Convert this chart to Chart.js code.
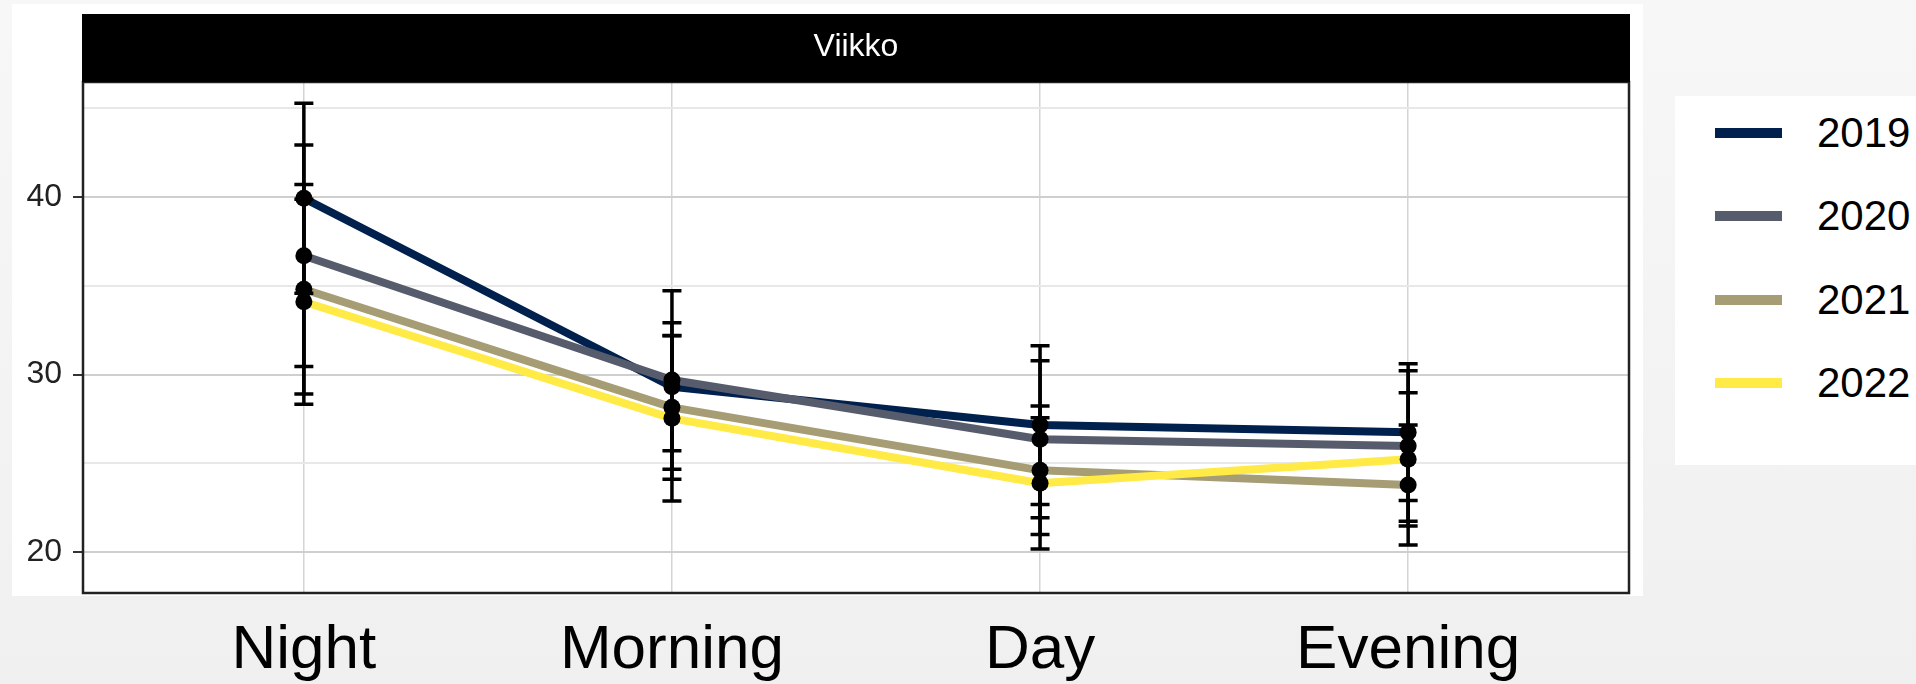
<!DOCTYPE html>
<html>
<head>
<meta charset="utf-8">
<title>Viikko</title>
<script src="https://cdn.jsdelivr.net/npm/chart.js@4.4.1/dist/chart.umd.min.js"></script>
<style>
    html, body { margin: 0; padding: 0; }
    body {
        width: 1916px; height: 684px; overflow: hidden; position: relative;
        background: linear-gradient(180deg, #f7f7f7 0%, #f0f0f0 100%);
        font-family: "Liberation Sans", Arial, sans-serif;
    }
    .sheet { position: absolute; left: 12px; top: 4px; width: 1631px; height: 592px; background: #fff; }
    #chart { position: absolute; left: 0; top: 0; }
    .legend { position: absolute; left: 1675px; top: 96px; width: 241px; height: 369px; background: #fff; }
    .legend .item { position: absolute; left: 40px; height: 42px; display: flex; align-items: center; }
    .legend .key { width: 67px; height: 10px; margin-right: 35px; }
    .legend .txt { font-size: 42px; line-height: 42px; color: #000; }
</style>
</head>
<body>
<div class="sheet"></div>
<canvas id="chart" width="1916" height="684"></canvas>
<div class="legend" id="legend"></div>

<script>
(function () {
    "use strict";

    // Data
    var categories = ["Night", "Morning", "Day", "Evening"];
    var years = ["2019", "2020", "2021", "2022"];
    var colors = ["#00204D", "#575C6D", "#A69D75", "#FFEA46"];

    var mean2019 = [39.93, 29.31, 27.15, 26.75];
    var mean2020 = [36.69, 29.69, 26.35, 25.97];
    var mean2021 = [34.80, 28.15, 24.60, 23.77];
    var mean2022 = [34.10, 27.53, 23.87, 25.22];

    var err2019 = [5.35, 3.61, 4.47, 3.85];
    var err2020 = [6.24, 5.03, 4.42, 4.24];
    var err2021 = [5.90, 4.05, 3.62, 3.38];
    var err2022 = [5.78, 4.66, 3.70, 3.75];

    var yTicks = [20, 25, 30, 35, 40, 45];
    var panelTitle = "Viikko";

    var means = [mean2019, mean2020, mean2021, mean2022];
    var errs = [err2019, err2020, err2021, err2022];


    // Datasets
    var datasets = years.map(function (year, i) {
        return {
            label: year,
            data: means[i].map(function (v, j) { return {x: j, y: v}; }),
            errors: errs[i],
            borderColor: colors[i],
            backgroundColor: colors[i],
            borderWidth: 8,
            borderJoinStyle: "round",
            pointRadius: 0,
            tension: 0,
            order: years.length - i
        };
    });


    // Error bars and points on top of the lines
    var errorBars = {
        id: "errorBars",
        afterDatasetsDraw: function (chart) {
            var ctx = chart.ctx;
            var yScale = chart.scales.y;
            ctx.save();
            ctx.strokeStyle = "#000";
            ctx.lineWidth = 3.5;
            chart.data.datasets.forEach(function (ds, i) {
                chart.getDatasetMeta(i).data.forEach(function (pt, j) {
                    var top = yScale.getPixelForValue(ds.data[j].y + ds.errors[j]);
                    var bot = yScale.getPixelForValue(ds.data[j].y - ds.errors[j]);
                    ctx.beginPath();
                    ctx.moveTo(pt.x, top);
                    ctx.lineTo(pt.x, bot);
                    ctx.moveTo(pt.x - 9.5, top);
                    ctx.lineTo(pt.x + 9.5, top);
                    ctx.moveTo(pt.x - 9.5, bot);
                    ctx.lineTo(pt.x + 9.5, bot);
                    ctx.stroke();
                });
            });
            ctx.fillStyle = "#000";
            chart.data.datasets.forEach(function (ds, i) {
                chart.getDatasetMeta(i).data.forEach(function (pt) {
                    ctx.beginPath();
                    ctx.arc(pt.x, pt.y, 8.5, 0, Math.PI * 2);
                    ctx.fill();
                });
            });
            ctx.restore();
        }
    };


    // Panel border and facet strip
    var panelFrame = {
        id: "panelFrame",
        afterDraw: function (chart) {
            var ctx = chart.ctx;
            var a = chart.chartArea;
            ctx.save();
            ctx.strokeStyle = "#222";
            ctx.lineWidth = 2.5;
            ctx.strokeRect(a.left, a.top, a.right - a.left, a.bottom - a.top);
            ctx.fillStyle = "#000";
            ctx.fillRect(a.left - 1, 14, a.right - a.left + 2, a.top - 14);
            ctx.fillStyle = "#fff";
            ctx.font = "32px 'Liberation Sans', Arial, sans-serif";
            ctx.textAlign = "center";
            ctx.textBaseline = "middle";
            ctx.fillText(panelTitle, (a.left + a.right) / 2, 47);
            ctx.restore();
        }
    };


    // Chart
    var ctx1 = document.getElementById("chart").getContext("2d");
    var myChart1 = new Chart(ctx1, {
        type: "line",
        data: {datasets: datasets},
        plugins: [errorBars, panelFrame],
        options: {
            responsive: false,
            animation: false,
            devicePixelRatio: 1,
            layout: {padding: {left: 0, right: 287, top: 82, bottom: 0}},
            plugins: {legend: {display: false}, tooltip: {enabled: false}},
            scales: {
                x: {
                    type: "linear",
                    min: -0.6,
                    max: 3.6,
                    afterBuildTicks: function (axis) {
                        axis.ticks = categories.map(function (c, i) { return {value: i}; });
                    },
                    afterFit: function (scale) { scale.height = 91; },
                    grid: {color: "#d4d4d4", lineWidth: 1.5, drawTicks: false},
                    border: {display: false},
                    ticks: {
                        autoSkip: false,
                        maxRotation: 0,
                        padding: 21,
                        color: "#000",
                        font: {family: "'Liberation Sans', Arial, sans-serif", size: 62},
                        callback: function (v) { return categories[v]; }
                    }
                },
                y: {
                    min: 17.69,
                    max: 46.48,
                    afterBuildTicks: function (axis) {
                        axis.ticks = yTicks.map(function (v) { return {value: v}; });
                    },
                    afterFit: function (scale) { scale.width = 83; },
                    grid: {
                        color: function (c) { return c.tick.value % 10 === 0 ? "#cfcfcf" : "#e8e8e8"; },
                        lineWidth: 2,
                        tickLength: 10,
                        tickWidth: 2,
                        tickColor: function (c) { return c.tick.value % 10 === 0 ? "#333" : "rgba(0,0,0,0)"; }
                    },
                    border: {display: false},
                    ticks: {
                        padding: 11,
                        color: "#222",
                        font: {family: "'Liberation Sans', Arial, sans-serif", size: 32},
                        callback: function (v) { return v % 10 === 0 ? v : ""; }
                    }
                }
            }
        }
    });


    // Legend
    var legend = document.getElementById("legend");
    years.forEach(function (year, i) {
        var item = document.createElement("div");
        item.className = "item";
        item.style.top = (16 + i * 83.3) + "px";
        item.innerHTML = '<span class="key" style="background:' + colors[i] + '"></span><span class="txt">' + year + '</span>';
        legend.appendChild(item);
    });

})();
</script>
</body>
</html>
